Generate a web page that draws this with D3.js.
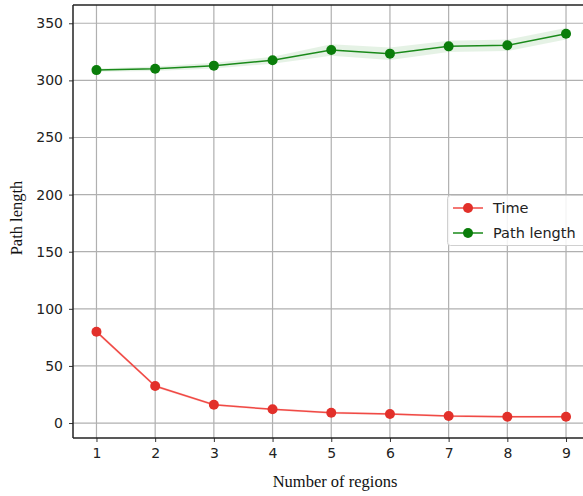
<!DOCTYPE html>
<html><head><meta charset="utf-8">
<script src="https://cdn.jsdelivr.net/npm/d3@7"></script>
<style>body{margin:0;background:#fff}</style>
</head><body>
<svg id="c" width="583" height="496"></svg>
<script>
const regions = [1,2,3,4,5,6,7,8,9];
const timeVals = [80, 32.4, 16, 12, 9, 7.9, 6.1, 5.5, 5.5];
const timeErr = [1.5, 1.2, 1, 1, 1, 1, 1, 1, 1];
const pathVals = [309, 310.2, 312.9, 317.6, 326.6, 323.4, 329.8, 330.7, 340.9];
const pathErr = [1.5, 2, 2.5, 3, 5, 5.5, 5, 5, 5];
const yTicks = [0, 50, 100, 150, 200, 250, 300, 350];
const seriesNames = ["Time", "Path length"];

const svg = d3.select("#c");
const L = 73, T = 5, R = 589.5, B = 438;
const x = d3.scaleLinear().domain([0.6, 9.4]).range([L, R]);
const y = d3.scaleLinear().domain([-13.1, 366]).range([B, T]);

// grid
svg.append("g").selectAll("line").data(regions).join("line")
  .attr("x1", d => x(d)).attr("x2", d => x(d)).attr("y1", T).attr("y2", B)
  .attr("stroke", "#b0b0b0").attr("stroke-width", 1.2);
svg.append("g").selectAll("line").data(yTicks).join("line")
  .attr("y1", d => y(d)).attr("y2", d => y(d)).attr("x1", L).attr("x2", R)
  .attr("stroke", "#b0b0b0").attr("stroke-width", 1.2);

// bands
const area = err => d3.area().x((d,i) => x(regions[i]))
  .y0((d,i) => y(d - err[i])).y1((d,i) => y(d + err[i]));
svg.append("path").datum(pathVals).attr("d", area(pathErr)).attr("fill", "#008000").attr("opacity", 0.1);
svg.append("path").datum(timeVals).attr("d", area(timeErr)).attr("fill", "#e8302a").attr("opacity", 0.12);

const line = d3.line().x((d,i) => x(regions[i])).y(d => y(d));
svg.append("path").datum(timeVals).attr("d", line).attr("fill", "none").attr("stroke", "#f04a45").attr("stroke-width", 1.5);
svg.append("path").datum(pathVals).attr("d", line).attr("fill", "none").attr("stroke", "#1a8a1a").attr("stroke-width", 1.5);
svg.append("g").selectAll("circle").data(timeVals).join("circle")
  .attr("cx", (d,i) => x(regions[i])).attr("cy", d => y(d)).attr("r", 5).attr("fill", "#e2302a");
svg.append("g").selectAll("circle").data(pathVals).join("circle")
  .attr("cx", (d,i) => x(regions[i])).attr("cy", d => y(d)).attr("r", 5).attr("fill", "#0a7d0a");

// axes
const xa = svg.append("g").attr("transform", `translate(0,${B})`)
  .call(d3.axisBottom(x).tickValues(regions).tickSize(4).tickPadding(6).tickFormat(d3.format("d")));
const ya = svg.append("g").attr("transform", `translate(${L},0)`)
  .call(d3.axisLeft(y).tickValues(yTicks).tickSize(4).tickPadding(6));
[xa, ya].forEach(a => {
  a.select(".domain").remove();
  a.selectAll("text").attr("font-family", "DejaVu Sans").attr("font-size", 14).attr("fill", "#222");
  a.selectAll("line").attr("stroke", "#333");
});
// spines
svg.append("line").attr("x1", L).attr("x2", L).attr("y1", T).attr("y2", B).attr("stroke", "#222").attr("stroke-width", 1.5);
svg.append("line").attr("x1", L).attr("x2", R).attr("y1", B).attr("y2", B).attr("stroke", "#222").attr("stroke-width", 1.5);
svg.append("line").attr("x1", L).attr("x2", R).attr("y1", T).attr("y2", T).attr("stroke", "#222").attr("stroke-width", 1.5);

// labels
svg.append("text").attr("x", 335).attr("y", 487).attr("text-anchor", "middle")
  .attr("font-family", "Liberation Serif").attr("font-size", 16.5).attr("fill", "#111").text("Number of regions");
svg.append("text").attr("transform", "translate(22,218) rotate(-90)").attr("text-anchor", "middle")
  .attr("font-family", "Liberation Serif").attr("font-size", 16.5).attr("fill", "#111").text("Path length");

// legend
const lg = svg.append("g");
lg.append("rect").attr("x", 447.5).attr("y", 195.5).attr("width", 145).attr("height", 50).attr("rx", 3)
  .attr("fill", "#fff").attr("fill-opacity", 0.85).attr("stroke", "#d0d0d0");
const lcol = [["#f04a45", "#e2302a"], ["#1a8a1a", "#0a7d0a"]];
seriesNames.forEach((n, i) => {
  const yy = 208 + i * 25;
  lg.append("line").attr("x1", 453).attr("x2", 483).attr("y1", yy).attr("y2", yy).attr("stroke", lcol[i][0]).attr("stroke-width", 1.5);
  lg.append("circle").attr("cx", 468).attr("cy", yy).attr("r", 5).attr("fill", lcol[i][1]);
  lg.append("text").attr("x", 493).attr("y", yy + 5).attr("font-family", "DejaVu Sans").attr("font-size", 14.5).attr("fill", "#222").text(n);
});
</script>
</body></html>
